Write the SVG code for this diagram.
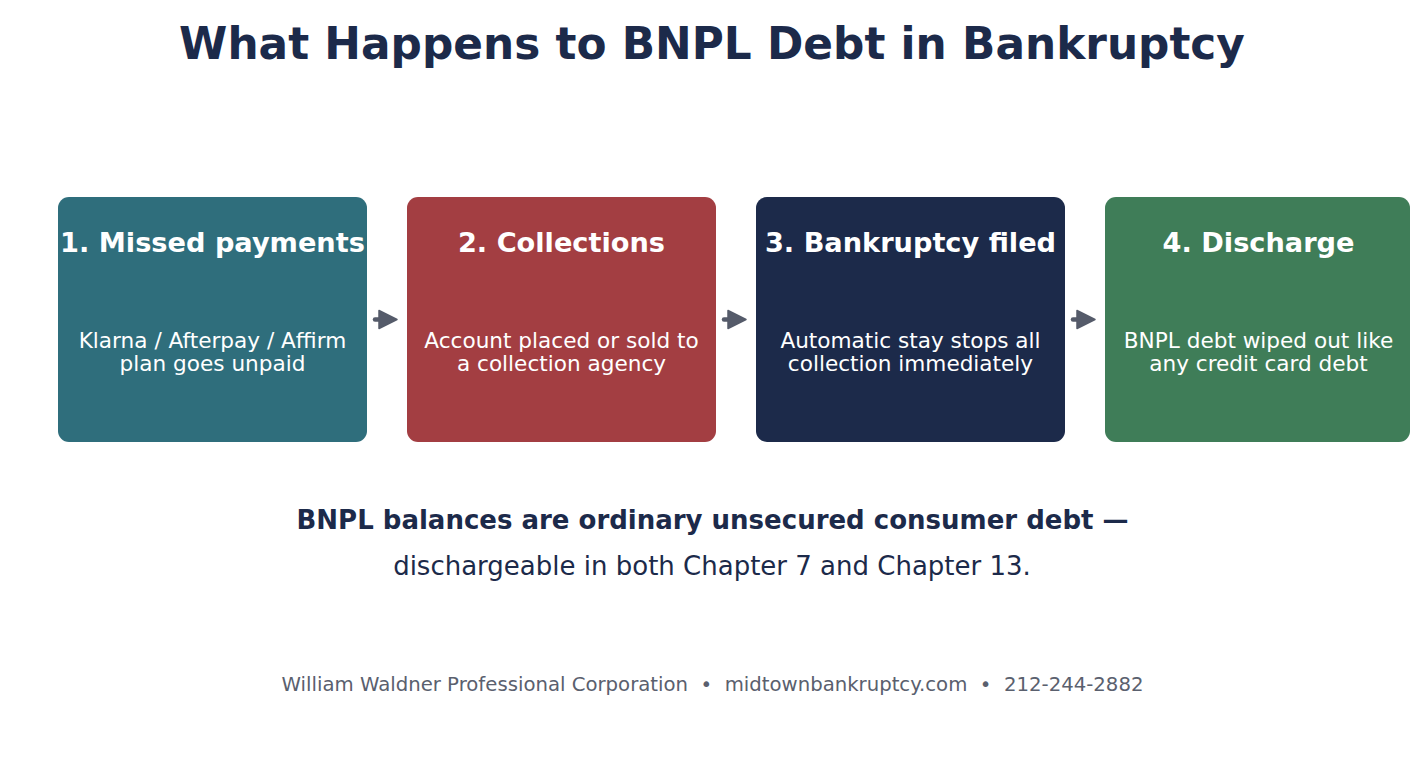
<svg xmlns="http://www.w3.org/2000/svg" width="1425" height="769" viewBox="0 0 1425 769">
<defs>
<style>
text{font-family:"DejaVu Sans","Liberation Sans",sans-serif;text-anchor:middle}
.title{font-size:43.8px;font-weight:bold;fill:#1c2a4a}
.bt{font-size:27.2px;font-weight:bold;fill:#ffffff}
.bd{font-size:21.6px;fill:#ffffff}
.n1{font-size:26px;font-weight:bold;fill:#1c2a4a}
.n2{font-size:26px;fill:#1c2a4a}
.foot{font-size:19.7px;fill:#5a606e;white-space:pre}
.arrow{stroke:#555b6a;stroke-width:4.5;stroke-linecap:round;fill:none}
.head{fill:#555b6a;stroke:#555b6a;stroke-width:1.5;stroke-linejoin:round}
</style>
</defs>
<rect width="1425" height="769" fill="#ffffff"/>
<text class="title" x="712" y="59">What Happens to BNPL Debt in Bankruptcy</text>
<g id="node1">
<rect x="58" y="197" width="309" height="245" rx="11" fill="#2f6e7c"/>
<text class="bt" x="212.5" y="252">1. Missed payments</text>
<text class="bd" x="212.5" y="348">Klarna / Afterpay / Affirm</text>
<text class="bd" x="212.5" y="371">plan goes unpaid</text>
</g>
<g id="node2">
<rect x="407" y="197" width="309" height="245" rx="11" fill="#a33e42"/>
<text class="bt" x="561.5" y="252">2. Collections</text>
<text class="bd" x="561.5" y="348">Account placed or sold to</text>
<text class="bd" x="561.5" y="371">a collection agency</text>
</g>
<g id="node3">
<rect x="756" y="197" width="309" height="245" rx="11" fill="#1c2a4a"/>
<text class="bt" x="910.5" y="252">3. Bankruptcy filed</text>
<text class="bd" x="910.5" y="348">Automatic stay stops all</text>
<text class="bd" x="910.5" y="371">collection immediately</text>
</g>
<g id="node4">
<rect x="1105" y="197" width="305" height="245" rx="11" fill="#3f7d58"/>
<text class="bt" x="1258.5" y="252">4. Discharge</text>
<text class="bd" x="1258.5" y="348">BNPL debt wiped out like</text>
<text class="bd" x="1258.5" y="371">any credit card debt</text>
</g>
<g id="connectors">
<line class="arrow" x1="375" y1="319.5" x2="382" y2="319.5"/>
<polygon class="head" points="379,310.5 397,319.5 379,328.5"/>
<line class="arrow" x1="724" y1="319.5" x2="731" y2="319.5"/>
<polygon class="head" points="728,310.5 746,319.5 728,328.5"/>
<line class="arrow" x1="1073" y1="319.5" x2="1080" y2="319.5"/>
<polygon class="head" points="1077,310.5 1095,319.5 1077,328.5"/>
</g>
<text class="n1" x="712.5" y="529">BNPL balances are ordinary unsecured consumer debt —</text>
<text class="n2" x="712" y="575">dischargeable in both Chapter 7 and Chapter 13.</text>
<text class="foot" x="712.5" y="691" xml:space="preserve">William Waldner Professional Corporation  •  midtownbankruptcy.com  •  212-244-2882</text>
</svg>
